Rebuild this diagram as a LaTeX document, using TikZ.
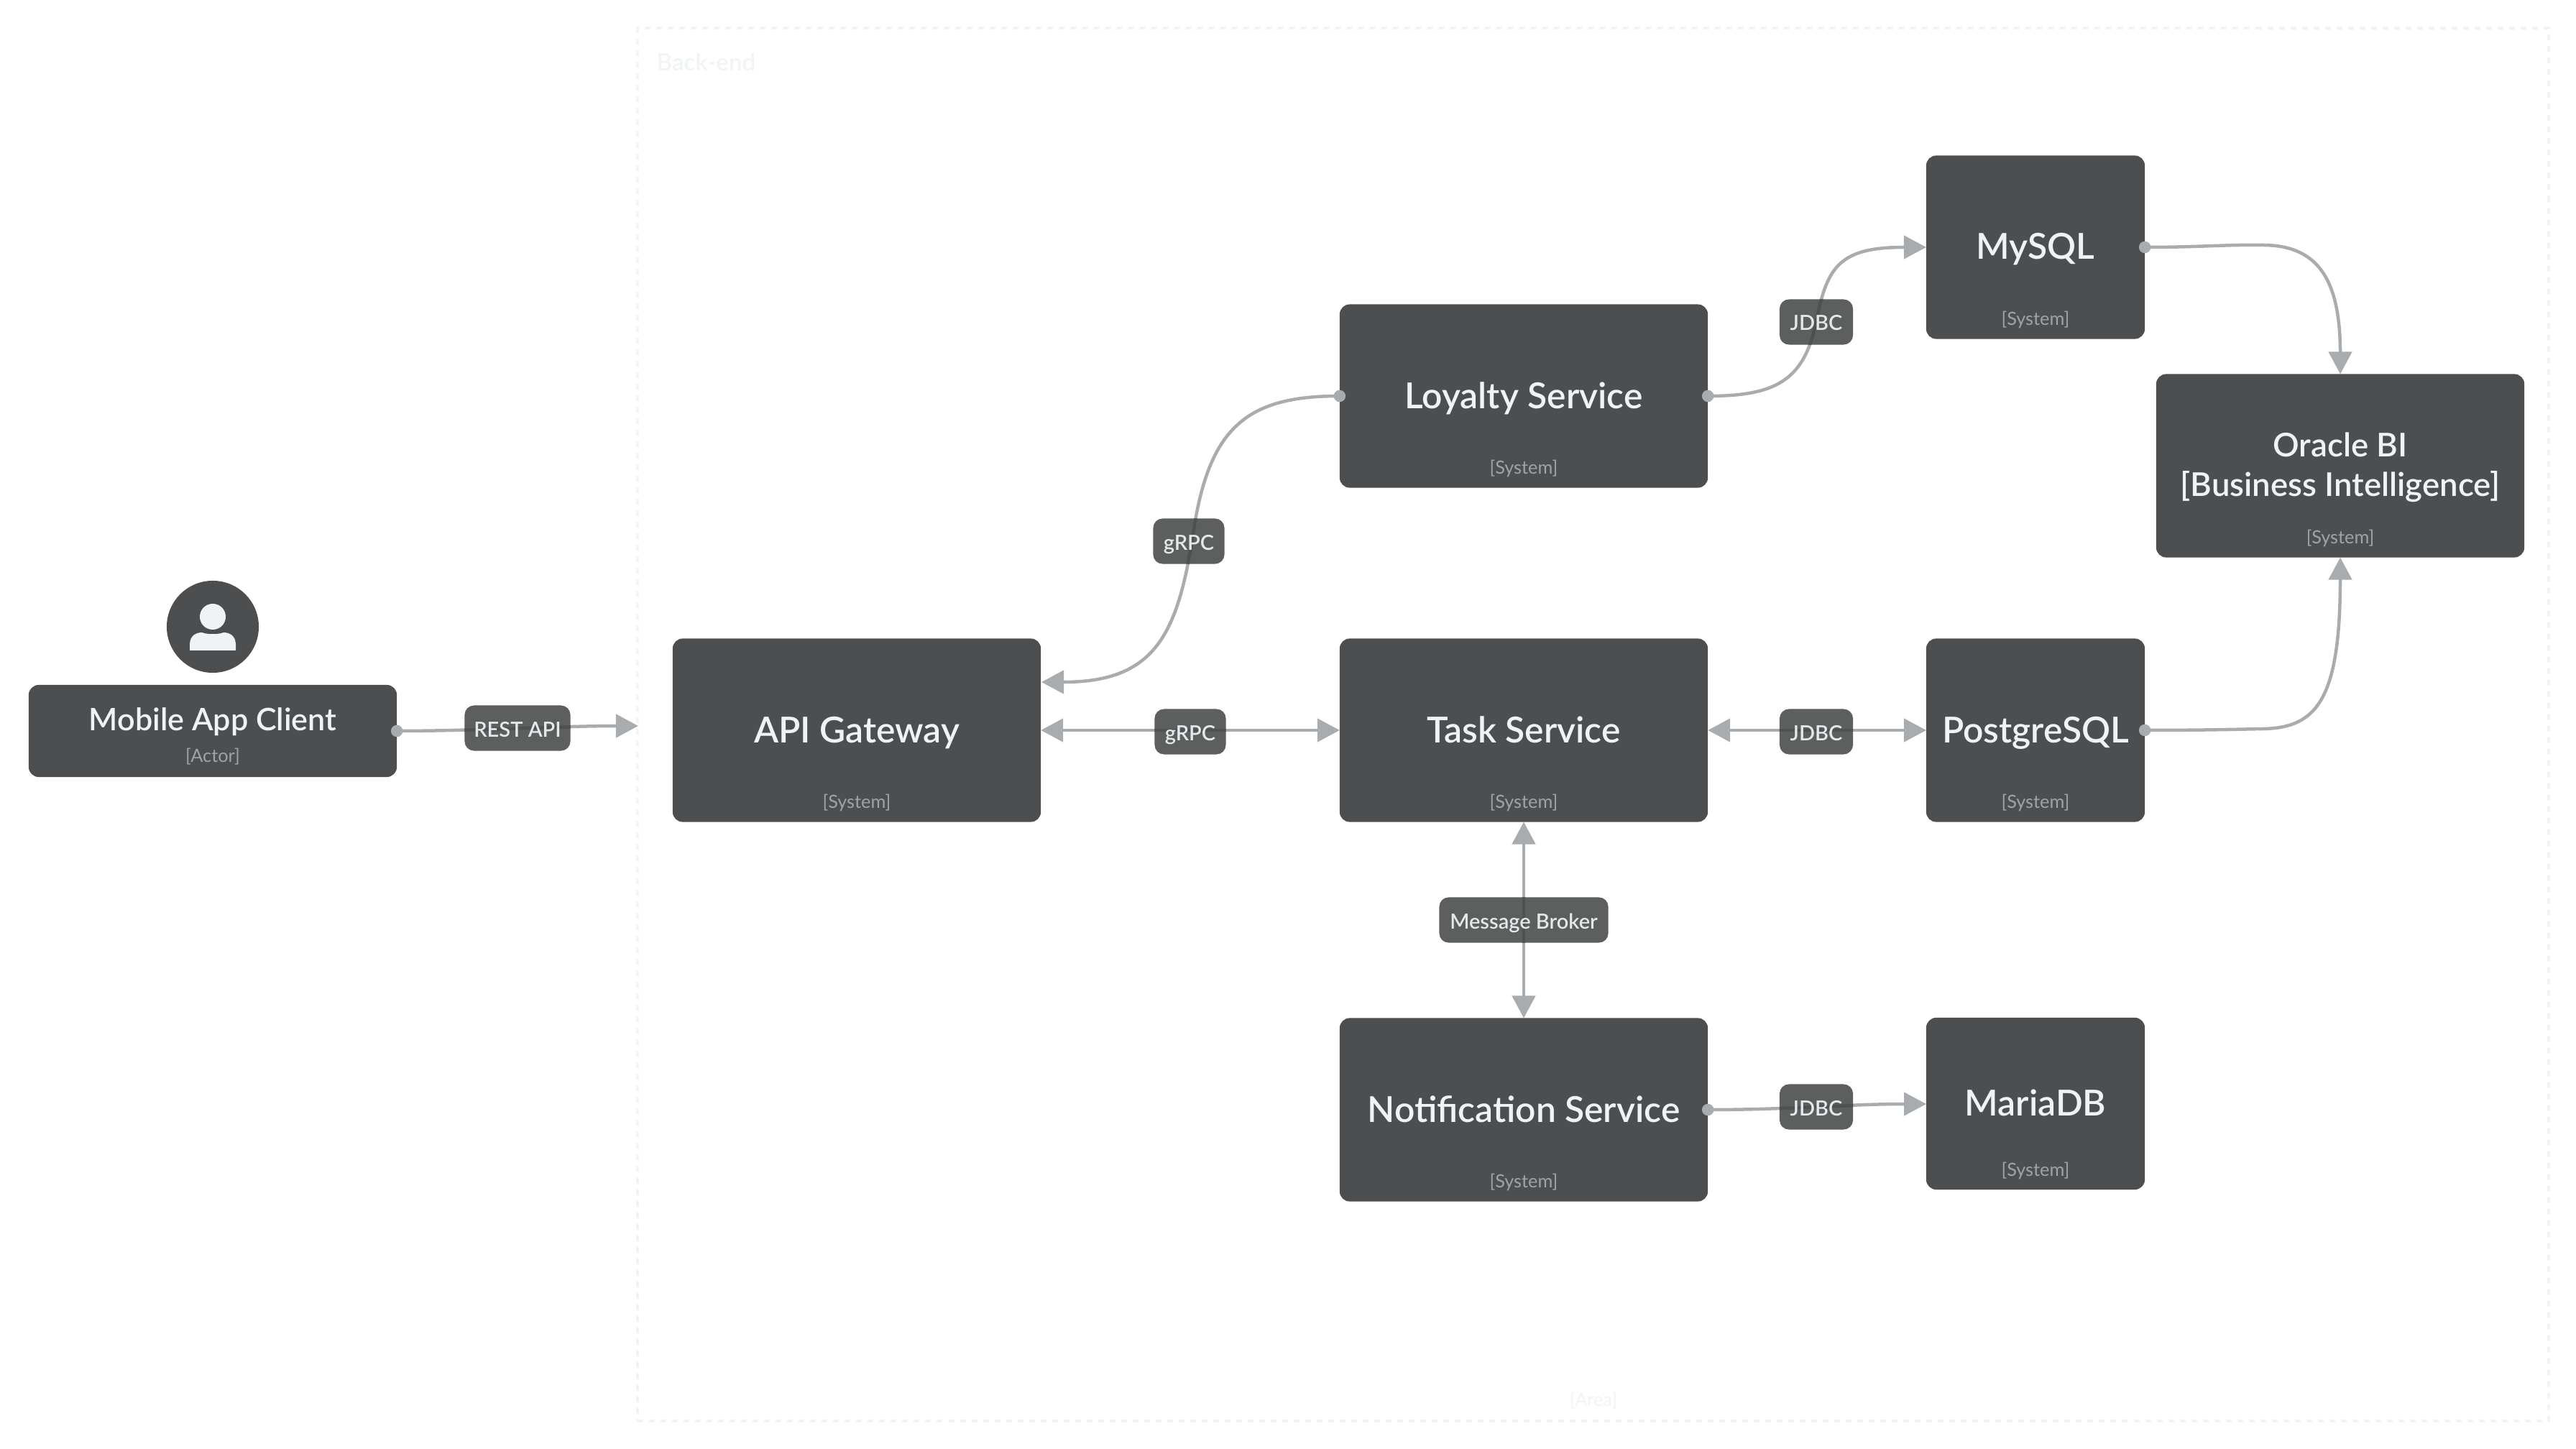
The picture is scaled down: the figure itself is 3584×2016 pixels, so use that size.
\documentclass[tikz,border=0pt]{standalone}
\usepackage{fontspec}
\setmainfont{Lato}
\newfontfamily\titlefont{Lato Semibold}
\usetikzlibrary{arrows.meta}
\definecolor{boxfill}{HTML}{4D4E50}
\definecolor{linecol}{HTML}{A9ACAE}
\definecolor{lblfill}{HTML}{5D5F5E}
\definecolor{titlecol}{HTML}{EFF3F4}
\definecolor{subcol}{HTML}{A0A3A5}
\definecolor{lbltext}{HTML}{E3E8EA}
\definecolor{areacol}{HTML}{F1F4F6}
\definecolor{inner}{HTML}{4F5051}
\tikzset{
  x=0.01cm,y=-0.01cm,
  sysbox/.style={fill=boxfill,draw=none,rounded corners=0.14cm,inner sep=0pt,outer sep=0pt,text=titlecol,align=center,text height=0.34cm,text depth=0cm,font=\titlefont\fontsize{14.15pt}{15.7pt}\selectfont},
  subtext/.style={text=subcol,inner sep=0pt,font=\fontsize{7.2pt}{8pt}\selectfont},
  lblbg/.style={fill=lblfill,draw=none,rounded corners=0.13cm,inner sep=0pt,outer sep=0pt,minimum height=0.63cm},
  lbltxt/.style={text=lbltext,inner sep=0pt,yshift=-0.02cm,text height=0.2cm,text depth=0cm,font=\titlefont\fontsize{8.25pt}{10pt}\selectfont},
  conn/.style={draw=linecol,line width=0.045cm},
  overlay line/.style={draw=inner,line width=0.045cm},
  tipend/.style={-{Triangle[length=0.31cm,width=0.32cm,fill=linecol,color=linecol]}},
  tipboth/.style={{Triangle[length=0.31cm,width=0.32cm,fill=linecol,color=linecol]}-{Triangle[length=0.31cm,width=0.32cm,fill=linecol,color=linecol]}},
  startdot/.style={fill=linecol,draw=none,circle,minimum size=0.165cm,inner sep=0pt},
}
\newcommand{\through}[2]{\begin{scope}\clip[rounded corners=0.13cm] (#1.south west) rectangle (#1.north east);\draw[overlay line] #2;\end{scope}}
\begin{document}
\begin{tikzpicture}
\useasboundingbox[fill=white] (0,0) rectangle (3584,2016);
% area
\node[draw=areacol,line width=0.04cm,dash pattern=on 0.08cm off 0.08cm,minimum width=26.57cm,minimum height=19.36cm,inner sep=0pt,outer sep=0pt] (area) at (2216.5,1008) {};
\node[text=areacol,inner sep=0pt,anchor=base west,font=\titlefont\fontsize{9.4pt}{10pt}\selectfont] (areatitle) at (913,99) {Back-end};
\node[text=areacol,inner sep=0pt,font=\fontsize{7.2pt}{8pt}\selectfont] (areasub) at (2217,1949) {[Area]};
% actor
\node[circle,fill=boxfill,minimum size=1.28cm,inner sep=0pt,outer sep=0pt] (avatar) at (296,872) {};
\fill[titlecol] (296,858) circle (0.18cm);
\fill[titlecol] (264,905) -- (264,897) .. controls (264,885) and (272,880) .. (281,880) .. controls (288,883) and (304,883) .. (311,880) .. controls (320,880) and (328,885) .. (328,897) -- (328,905) -- cycle;
\node[sysbox,minimum width=5.12cm,minimum height=1.28cm] (mobile) at (296,1017) {};
\node[text=titlecol,inner sep=0pt,text height=0.31cm,text depth=0cm,font=\titlefont\fontsize{12.25pt}{15pt}\selectfont] (mobiletxt) at (296,1001) {Mobile App Client};
\node[subtext] (mobilesub) at (296,1053) {[Actor]};
% systems
\node[sysbox,minimum width=5.12cm,minimum height=2.55cm] (api) at (1192,1016) {API Gateway};
\node[subtext] at ([yshift=0.265cm]api.south) {[System]};
\node[sysbox,minimum width=5.12cm,minimum height=2.55cm] (loyalty) at (2120,551) {Loyalty Service};
\node[subtext] at ([yshift=0.265cm]loyalty.south) {[System]};
\node[sysbox,minimum width=5.12cm,minimum height=2.55cm] (task) at (2120,1016) {Task Service};
\node[subtext] at ([yshift=0.265cm]task.south) {[System]};
\node[sysbox,minimum width=5.12cm,minimum height=2.55cm] (notif) at (2120,1544) {Notification Service};
\node[subtext] at ([yshift=0.265cm]notif.south) {[System]};
\node[sysbox,minimum width=3.04cm,minimum height=2.55cm] (mysql) at (2832,344) {MySQL};
\node[subtext] at ([yshift=0.265cm]mysql.south) {[System]};
\node[sysbox,minimum width=3.04cm,minimum height=2.55cm] (pg) at (2832,1016) {PostgreSQL};
\node[subtext] at ([yshift=0.265cm]pg.south) {[System]};
\node[sysbox,minimum width=3.04cm,minimum height=2.39cm] (maria) at (2832,1535.5) {MariaDB};
\node[subtext] at ([yshift=0.265cm]maria.south) {[System]};
\node[sysbox,minimum width=5.12cm,minimum height=2.55cm] (oracle) at (3256,648) {};
\node[text=titlecol,inner sep=0pt,align=center,font=\titlefont\fontsize{12.95pt}{15.6pt}\selectfont] (oracletxt) at (3256,650) {Oracle BI\\{[Business Intelligence]}};
\node[subtext] at ([yshift=0.265cm]oracle.south) {[System]};
% free ends
\coordinate (mobileend) at (888,1010);
\coordinate (apiin) at (1449,949);
\coordinate (mysqlin) at (mysql.west);
\coordinate (mariain) at (2680,1536);
% connector paths
\def\pa{(mobile.east) .. controls (660,1017) and (780,1010) .. (mobileend)}
\def\pb{(loyalty.west) .. controls (1740,551) and (1685,590) .. (1662,730) .. controls (1640,880) and (1610,949) .. (apiin)}
\def\pc{(api.east) -- (task.west)}
\def\pd{(loyalty.east) .. controls (2470,551) and (2510,530) .. (2527,447) .. controls (2542,370) and (2560,344) .. (mysqlin)}
\def\pe{(task.east) -- (pg.west)}
\def\pf{(task.south) -- (notif.north)}
\def\pg{(notif.east) .. controls (2490,1544) and (2570,1536) .. (mariain)}
\draw[conn,tipend] \pa;
\draw[conn,tipend] \pb;
\draw[conn,tipboth] \pc;
\draw[conn,tipend] \pd;
\draw[conn,tipboth] \pe;
\draw[conn,tipboth] \pf;
\draw[conn,tipend] \pg;
\draw[conn,tipend] (mysql.east) .. controls (3060,344) and (3100,340) .. (3150,341) .. controls (3222,342) and (3256,385) .. (oracle.north);
\draw[conn,tipend] (pg.east) .. controls (3060,1016) and (3100,1015) .. (3150,1014) .. controls (3222,1012) and (3256,975) .. (oracle.south);
% dots
\node[startdot] at (mobile.east) {};
\node[startdot] at (loyalty.west) {};
\node[startdot] at (loyalty.east) {};
\node[startdot] at (mysql.east) {};
\node[startdot] at (pg.east) {};
\node[startdot] at (notif.east) {};
% labels
\node[lblbg,minimum width=1.47cm] (l1) at (720,1013) {};
\through{l1}{\pa}
\node[lbltxt] at (l1) {REST API};
\node[lblbg,minimum width=0.99cm] (l2) at (1654,753) {};
\through{l2}{\pb}
\node[lbltxt] at (l2) {gRPC};
\node[lblbg,minimum width=0.99cm] (l3) at (1656,1018) {};
\through{l3}{\pc}
\node[lbltxt] at (l3) {gRPC};
\node[lblbg,minimum width=1.02cm] (l4) at (2527,448) {};
\through{l4}{\pd}
\node[lbltxt] at (l4) {JDBC};
\node[lblbg,minimum width=1.02cm] (l5) at (2527,1018) {};
\through{l5}{\pe}
\node[lbltxt] at (l5) {JDBC};
\node[lblbg,minimum width=2.35cm] (l6) at (2120,1280) {};
\through{l6}{\pf}
\node[lbltxt] at (l6) {Message Broker};
\node[lblbg,minimum width=1.02cm] (l7) at (2527,1540) {};
\through{l7}{\pg}
\node[lbltxt] at (l7) {JDBC};
\end{tikzpicture}
\end{document}
